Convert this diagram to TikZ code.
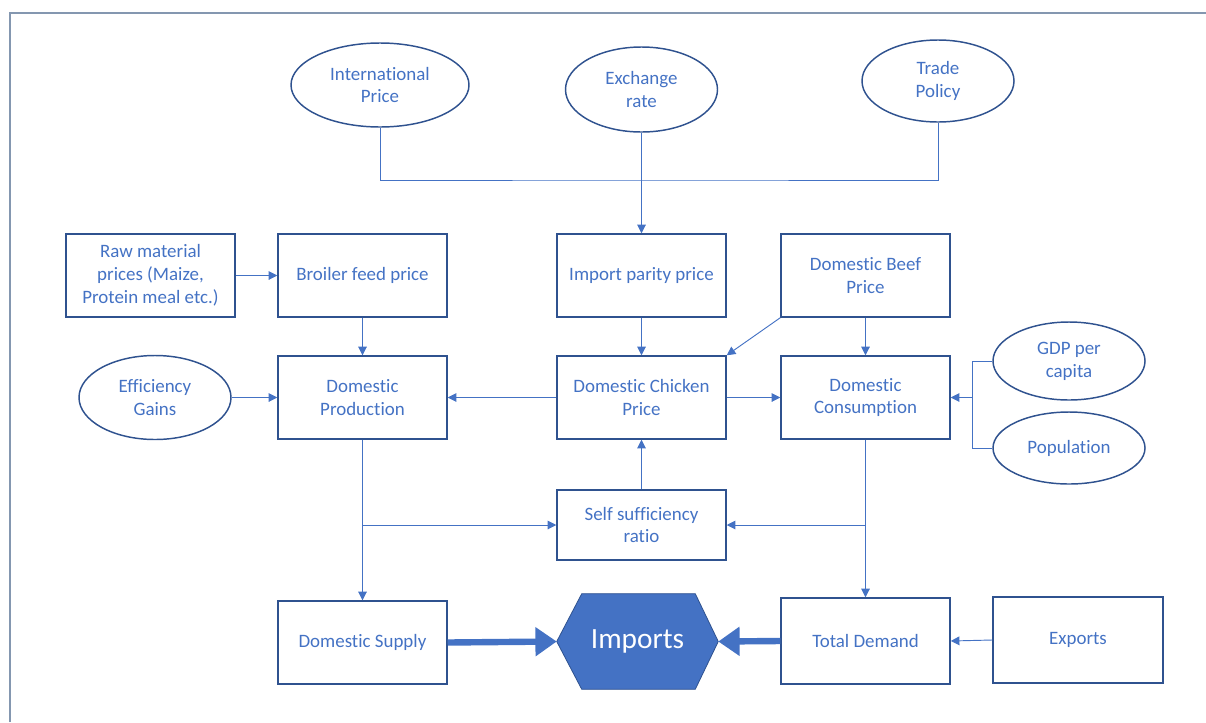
\documentclass[tikz,border=0pt]{standalone}
\usepackage{fontspec}
\setmainfont{Carlito}[Ligatures=NoCommon]
\usetikzlibrary{arrows.meta,positioning,shapes.geometric,backgrounds}
\definecolor{accent}{HTML}{4472C4}
\definecolor{edge}{HTML}{2F528F}
\definecolor{frame}{HTML}{8497B0}

\begin{document}
\begin{tikzpicture}[x=0.75pt,y=-0.75pt,
  txt/.style={text=accent,align=center,inner sep=0pt,font=\fontsize{14.2}{17.2}\selectfont},
  box/.style={txt,draw=edge,line width=1.1pt,minimum width=126.75pt,minimum height=62.25pt},
  oval/.style={txt,ellipse,draw=edge,line width=1.1pt,minimum width=114pt,minimum height=63pt},
  link/.style={draw=accent,line width=0.7pt},
  arr/.style={link,-{Triangle[length=6.5pt,width=6.5pt]}},
  fat/.style={draw=accent,line width=4.8pt,-{Triangle[length=16pt,width=21pt]}}]
\useasboundingbox (0,0) rectangle (1206,722);
\draw[frame,line width=0.8pt] (10,722) -- (10,13) -- (1206,13);

\node[oval,minimum width=133.5pt] (intl) at (380,85) {International\\Price};
\node[oval,minimum height=63.75pt] (fx) at (641.5,89.5) {Exchange\\rate};
\node[oval,minimum height=61.5pt] (trade) at (938,81) {Trade\\Policy};

\node[box] (raw) at (150.5,275.5) {Raw material\\prices (Maize,\\Protein meal etc.)};
\node[box] (feed) at (362.5,275.5) {Broiler feed price};
\node[box] (parity) at (641.5,275.5) {Import parity price};
\node[box] (beef) at (865.5,275.5) {Domestic Beef\\Price};

\node[oval] (gain) at (155,397.5) {Efficiency\\Gains};
\node[box] (prod) at (362.5,397.5) {Domestic\\Production};
\node[box] (chick) at (641.5,397.5) {Domestic Chicken\\Price};
\node[box] (cons) at (865.5,397.5) {Domestic\\Consumption};
\node[oval,minimum height=58.5pt] (gdp) at (1069,361) {GDP per\\capita};
\node[oval,minimum height=54pt] (pop) at (1069,448) {Population};

\node[box,minimum height=52.5pt] (ssr) at (641.5,525) {Self sufficiency\\ratio};

\node[box] (supply) at (362.5,642.5) {Domestic Supply};
\node[txt,text=white,font=\fontsize{22}{26}\selectfont,minimum width=120.75pt,minimum height=71.25pt] (imports) at (637.5,641.5) {Imports};
\node[box,minimum height=64.5pt] (demand) at (865.5,641) {Total Demand};
\node[box,minimum width=127.5pt,minimum height=64.5pt] (exports) at (1078,640) {Exports};

\begin{scope}[on background layer]
\filldraw[fill=accent,draw=edge,line width=0.6pt] (imports.west) -- ([xshift=18.75pt]imports.north west) -- ([xshift=-17.25pt]imports.north east)
  -- (imports.east) -- ([xshift=-17.25pt]imports.south east) -- ([xshift=18.75pt]imports.south west) -- cycle;
\end{scope}

\coordinate (join) at (641.5,180);
\draw[link] (intl.south) |- (join) -| (trade.south);
\draw[arr] (fx.south) -- (parity.north);

\draw[arr] (raw) -- (feed);
\draw[arr] (feed) -- (prod);
\draw[arr] (gain) -- (prod);
\draw[arr] (parity) -- (chick);
\draw[arr] (beef.south west) -- (chick.north east);
\draw[arr] (beef) -- (cons);
\draw[arr] (chick) -- (prod);
\draw[arr] (chick) -- (cons);

\coordinate (fork) at (972,397.5);
\draw[link] (gdp.west) -| (fork) |- (pop.west);
\draw[arr] (fork) -- (cons.east);

\coordinate (tapL) at (362.5,525);
\coordinate (tapR) at (865.5,525);
\draw[arr] (prod) -- (supply);
\draw[arr] (tapL) -- (ssr.west);
\draw[arr] (cons) -- (demand);
\draw[arr] (tapR) -- (ssr.east);
\draw[arr] (ssr) -- (chick);

\draw[fat] (supply.east) -- (imports.west);
\draw[fat] (demand.west) -- (imports.east);
\draw[arr] (exports.west) -- (demand.east);
\end{tikzpicture}
\end{document}
